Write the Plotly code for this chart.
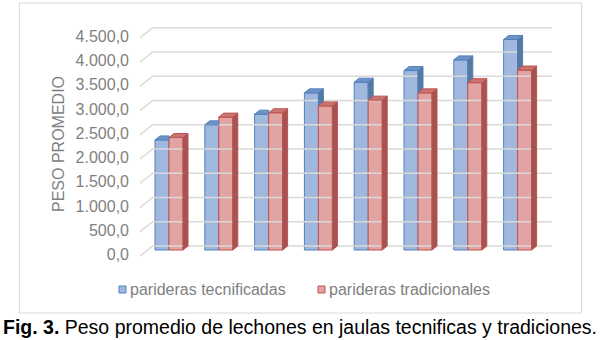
import plotly.graph_objects as go

# ---- data -------------------------------------------------------------
categories = ["1", "2", "3", "4", "5", "6", "7", "8"]
tecnificadas = [2270, 2580, 2800, 3240, 3460, 3700, 3920, 4340]
tradicionales = [2320, 2740, 2830, 2970, 3090, 3240, 3450, 3710]
series_names = ["parideras tecnificadas", "parideras tradicionales"]
y_ticks = [0, 500, 1000, 1500, 2000, 2500, 3000, 3500, 4000, 4500]
y_title = "PESO PROMEDIO"
caption = "<b>Fig. 3.</b> Peso promedio de lechones en jaulas tecnificas y tradiciones."

# ---- geometry (pixels on a 600x340 page) ------------------------------
W, H = 600, 340
PX_PER_CAT = 49.8          # horizontal distance between categories
CAT0_PX = 169              # first category centre (blue/red seam)
PX_PER_UNIT = 0.0485       # vertical pixels per unit of weight
BASE_PX = 250              # pixel row of the bars' front base
BAR_PX = 14                # width of each bar front face
DEPTH_PX = (5, 4)          # bar depth (right, up)
BACK_PX = (5, 4)           # back wall offset from bar base
FRONT_PX = (-7.7, -6)      # front edge of the floor/wall (left, down)
WALL_LEFT_PX, WALL_RIGHT_PX = 152.7, 551.7

FONT = "Liberation Sans, Arial, sans-serif"
GREY = "#7f7f7f"
GRID = "#d9d9d9"
BLUE = dict(face="#a0b8de", edge="#4f81bd", side="#56799f", top="#6f92c6")
RED = dict(face="#e2a4a3", edge="#c0504d", side="#a25553", top="#c87674")


def cx(px):
    """pixel distance -> category units"""
    return px / PX_PER_CAT


def vy(px):
    """pixel distance -> value units"""
    return px / PX_PER_UNIT


def px_to_x(px):
    return (px - CAT0_PX) / PX_PER_CAT


x_range = [px_to_x(0), px_to_x(W)]
y_range = [-(H - BASE_PX) / PX_PER_UNIT, BASE_PX / PX_PER_UNIT]

fig = go.Figure()

# ---- back wall gridlines with their diagonal floor links ---------------
gx, gy = [], []
for v in y_ticks:
    back_v = v + vy(BACK_PX[1])
    front_v = v + vy(FRONT_PX[1])
    xl = px_to_x(WALL_LEFT_PX)
    xr = px_to_x(WALL_RIGHT_PX)
    x_front = px_to_x(WALL_LEFT_PX - 12.7)
    gx += [x_front, xl, xr, None]
    gy += [front_v, back_v, back_v, None]
fig.add_trace(go.Scatter(x=gx, y=gy, mode="lines",
                         line=dict(color=GRID, width=1.5),
                         hoverinfo="skip", showlegend=False))

# ---- tick labels on the front edge -------------------------------------
def fmt(v):
    s = f"{v:,.1f}"
    return s.replace(",", "X").replace(".", ",").replace("X", ".")

fig.add_trace(go.Scatter(
    x=[px_to_x(WALL_LEFT_PX - 12.7 - 11)] * len(y_ticks),
    y=[v + vy(FRONT_PX[1]) for v in y_ticks],
    mode="text", text=[fmt(v) for v in y_ticks],
    textposition="middle left",
    textfont=dict(family=FONT, size=16, color=GREY),
    hoverinfo="skip", showlegend=False))

# ---- bar front faces ----------------------------------------------------
idx = list(range(len(categories)))
bw = cx(BAR_PX)
fig.add_trace(go.Bar(x=[i - bw / 2 for i in idx], y=tecnificadas, width=bw,
                     name=series_names[0],
                     marker=dict(color=BLUE["face"],
                                 line=dict(color=BLUE["edge"], width=1)),
                     showlegend=False))
fig.add_trace(go.Bar(x=[i + bw / 2 for i in idx], y=tradicionales, width=bw,
                     name=series_names[1],
                     marker=dict(color=RED["face"],
                                 line=dict(color=RED["edge"], width=1)),
                     showlegend=False))

ddx, ddy = cx(DEPTH_PX[0]), vy(DEPTH_PX[1])


def poly(xs, ys, fill, edge):
    fig.add_trace(go.Scatter(x=xs + [xs[0]], y=ys + [ys[0]], mode="lines",
                             fill="toself", fillcolor=fill,
                             line=dict(color=edge, width=1),
                             hoverinfo="skip", showlegend=False))


# blue sides/tops: only the parts not hidden by the red bar next to them
for i, vb, vr in zip(idx, tecnificadas, tradicionales):
    xl, xr = i - bw, i
    if vb > vr:
        poly([xr, xr, xr + ddx, xr + ddx],
             [vr, vb, vb + ddy, vr + ddy], BLUE["side"], BLUE["edge"])
        poly([xl, xr, xr + ddx, xl + ddx],
             [vb, vb, vb + ddy, vb + ddy], BLUE["top"], BLUE["edge"])
    else:
        poly([xl, xr, xr, xl + ddx],
             [vb, vb, vb + ddy, vb + ddy], BLUE["top"], BLUE["edge"])

# red sides and tops
for i, vr in zip(idx, tradicionales):
    xl, xr = i, i + bw
    poly([xr, xr, xr + ddx, xr + ddx],
         [0, vr, vr + ddy, ddy], RED["side"], RED["edge"])
    poly([xl, xr, xr + ddx, xl + ddx],
         [vr, vr, vr + ddy, vr + ddy], RED["top"], RED["edge"])

# ---- frame, legend, titles ---------------------------------------------
def px_paper(x, y):
    return x / W, 1 - y / H

shapes = []
x0, y1 = px_paper(19.3, 3)
x1, y0 = px_paper(581.7, 313)
shapes.append(dict(type="rect", xref="paper", yref="paper",
                   x0=x0, y0=y0, x1=x1, y1=y1,
                   line=dict(color="#d9d9d9", width=1), layer="below"))

legend_items = [(119, BLUE, series_names[0]), (318, RED, series_names[1])]
annotations = []
for lx, col, name in legend_items:
    a0, b1 = px_paper(lx, 286)
    a1, b0 = px_paper(lx + 7, 293)
    shapes.append(dict(type="rect", xref="paper", yref="paper",
                       x0=a0, y0=b0, x1=a1, y1=b1,
                       fillcolor=col["face"],
                       line=dict(color=col["edge"], width=1)))
    tx, ty = px_paper(lx + 8.5, 289.5)
    annotations.append(dict(xref="paper", yref="paper", x=tx, y=ty,
                            text=name, showarrow=False,
                            xanchor="left", yanchor="middle",
                            font=dict(family=FONT, size=16, color=GREY)))

tx, ty = px_paper(58, 144)
annotations.append(dict(xref="paper", yref="paper", x=tx, y=ty,
                        text=y_title, textangle=-90, showarrow=False,
                        xanchor="center", yanchor="middle",
                        font=dict(family=FONT, size=16, color=GREY)))

tx, ty = px_paper(1, 327)
annotations.append(dict(xref="paper", yref="paper", x=tx, y=ty,
                        text=caption, showarrow=False,
                        xanchor="left", yanchor="middle",
                        font=dict(family=FONT, size=19.5, color="#000000")))

fig.update_layout(
    width=W, height=H,
    margin=dict(l=0, r=0, t=0, b=0, pad=0),
    paper_bgcolor="white", plot_bgcolor="white",
    barmode="overlay",
    xaxis=dict(range=x_range, visible=False, fixedrange=True),
    yaxis=dict(range=y_range, visible=False, fixedrange=True),
    shapes=shapes, annotations=annotations,
    showlegend=False,
)

fig.write_html("out.html")
